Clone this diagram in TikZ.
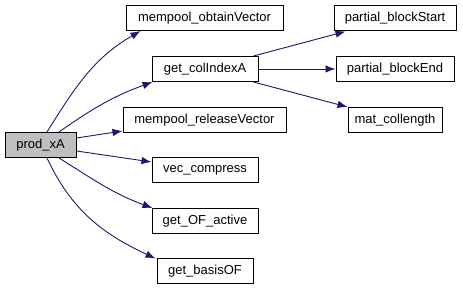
\documentclass[tikz,border=0pt]{standalone}
\usepackage{fontspec}
\setmainfont{Liberation Sans}
\usetikzlibrary{arrows.meta}
\definecolor{edgeblue}{HTML}{191970}
\definecolor{focusgray}{HTML}{BFBFBF}
\begin{document}
\begin{tikzpicture}[x=1pt,y=1pt,
  fn/.style={draw=black,line width=1pt,fill=white,inner sep=0pt,
    minimum height=25pt,font=\fontsize{13}{15}\selectfont},
  call/.style={draw=edgeblue,line width=0.9pt,
    -{Latex[length=10pt,width=7.5pt]}}]
\useasboundingbox (0,0) rectangle (463,291);
% caller
\node[fn,fill=focusgray,minimum width=71pt] (p) at (40.5,146) {prod\_xA};
% direct callees
\node[fn,minimum width=157pt] (obtain)   at (204.5,273) {mempool\_obtainVector};
\node[fn,minimum width=106pt] (colidx)   at (205,222)   {get\_colIndexA};
\node[fn,minimum width=163pt] (release)  at (204.5,171) {mempool\_releaseVector};
\node[fn,minimum width=106pt] (compress) at (205,121)   {vec\_compress};
\node[fn,minimum width=106pt] (ofactive) at (205,70)    {get\_OF\_active};
\node[fn,minimum width=96pt]  (basisof)  at (205,19.5)  {get\_basisOF};
% callees of get_colIndexA
\node[fn,minimum width=122pt] (bstart) at (395,272.5) {partial\_blockStart};
\node[fn,minimum width=118pt] (bend)   at (395,222)   {partial\_blockEnd};
\node[fn,minimum width=94pt]  (collen) at (395,171)   {mat\_collength};
% calls from prod_xA
\draw[call] ([xshift=6.5pt]p.north) to[out=58,in=210] ([xshift=15pt]obtain.south west);
\draw[call] ([xshift=18.5pt]p.north) to[out=35,in=200] ([xshift=1pt]colidx.south west);
\draw[call] ([yshift=7pt]p.east) -- ([yshift=2pt]release.south west);
\draw[call] ([yshift=-6pt]p.east) -- ([yshift=8pt]compress.west);
\draw[call] ([xshift=18.5pt]p.south) to[out=-32,in=160] ([xshift=1pt]ofactive.north west);
\draw[call] ([xshift=6.5pt]p.south) to[out=-65,in=155] ([xshift=-1pt]basisof.north west);
% calls from get_colIndexA
\draw[call] ([xshift=-5pt]colidx.north east) -- ([xshift=12pt]bstart.south west);
\draw[call] (colidx.east) -- (bend.west);
\draw[call] ([xshift=-5pt]colidx.south east) -- (collen.north west);
\end{tikzpicture}
\end{document}
